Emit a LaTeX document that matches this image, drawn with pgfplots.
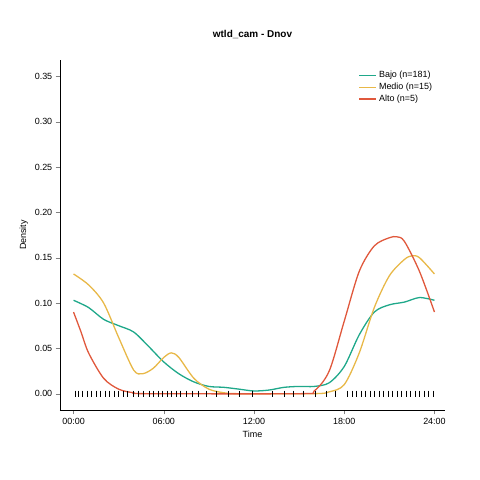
\documentclass[border=0pt]{standalone}
\usepackage{pgfplots}
\pgfplotsset{compat=1.18}
\usepackage{fontspec}
\setmainfont{Liberation Sans}
\definecolor{colB}{HTML}{1FA88A}
\definecolor{colM}{HTML}{E8B848}
\definecolor{colA}{HTML}{E0583C}
\begin{document}
\begin{tikzpicture}
\useasboundingbox (-60bp,-70bp) rectangle (420bp,410bp);
\begin{axis}[at={(0,0)},anchor=south west,scale only axis,width=385bp,height=350bp,
 xmin=-0.9,xmax=24.7,ymin=-0.018,ymax=0.368,
 xtick={0,6,12,18,24},xticklabels={00:00,06:00,12:00,18:00,24:00},
 ytick={0,0.05,0.1,0.15,0.2,0.25,0.3,0.35},
 yticklabel style={/pgf/number format/.cd,fixed,fixed zerofill,precision=2},
 /pgf/number format/assume math mode=true,
 tick label style={font=\small},
 axis x line*=bottom, axis y line*=left, tick align=outside,
 xlabel={Time},ylabel={Density},label style={font=\small},
 title={\textbf{wtld\_cam - Dnov}},title style={yshift=12pt},
 legend style={draw=none,fill=none,at={(0.98,0.98)},anchor=north east,font=\small},
 legend cell align=left]
\addplot[colB,line width=1.3pt,smooth] coordinates {(0,0.103)(1,0.095)(2,0.082)(3,0.075)(4,0.068)(5,0.052)(6,0.035)(7,0.022)(8,0.013)(9,0.008)(10,0.007)(11,0.005)(12,0.003)(13,0.004)(14,0.007)(15,0.008)(16,0.008)(17,0.012)(18,0.030)(19,0.065)(20,0.090)(21,0.098)(22,0.101)(23,0.106)(24,0.103)};
\addlegendentry{Bajo (n=181)}
\addplot[colM,line width=1.3pt,smooth] coordinates {(0,0.132)(1,0.12)(2,0.10)(3,0.062)(4,0.026)(4.6,0.022)(5.3,0.028)(6,0.040)(6.5,0.045)(7,0.040)(8,0.017)(9,0.005)(10,0.001)(11,0)(16,0)(17,0.002)(18,0.010)(19,0.045)(20,0.095)(21,0.130)(22,0.148)(22.5,0.152)(23,0.150)(24,0.132)};
\addlegendentry{Medio (n=15)}
\addplot[colA,line width=1.3pt,smooth] coordinates {(0,0.09)(0.5,0.068)(1,0.045)(2,0.017)(3,0.005)(4,0.001)(5,0)(15,0)(16,0.003)(17,0.025)(18,0.080)(19,0.135)(20,0.163)(21,0.172)(21.5,0.173)(22,0.168)(23,0.135)(24,0.090)};
\addlegendentry{Alto (n=5)}
\addplot[black,only marks,mark=|,mark size=3pt,forget plot] coordinates {(0.1,0)(0.3,0)(0.6,0)(0.9,0)(1.2,0)(1.5,0)(1.8,0)(2.1,0)(2.4,0)(2.7,0)(3.0,0)(3.3,0)(3.6,0)(4.0,0)(4.3,0)(4.6,0)(5.0,0)(5.3,0)(5.6,0)(5.9,0)(6.2,0)(6.5,0)(6.8,0)(7.1,0)(7.5,0)(7.9,0)(8.3,0)(8.8,0)(9.5,0)(10.3,0)(11.0,0)(11.9,0)(13.2,0)(14.0,0)(14.6,0)(15.3,0)(16.1,0)(16.8,0)(17.4,0)(18.2,0)(18.5,0)(18.8,0)(19.1,0)(19.4,0)(19.7,0)(20.0,0)(20.3,0)(20.6,0)(20.9,0)(21.2,0)(21.5,0)(21.8,0)(22.1,0)(22.4,0)(22.7,0)(23.0,0)(23.3,0)(23.6,0)(23.9,0)};
\end{axis}
\end{tikzpicture}
\end{document}
